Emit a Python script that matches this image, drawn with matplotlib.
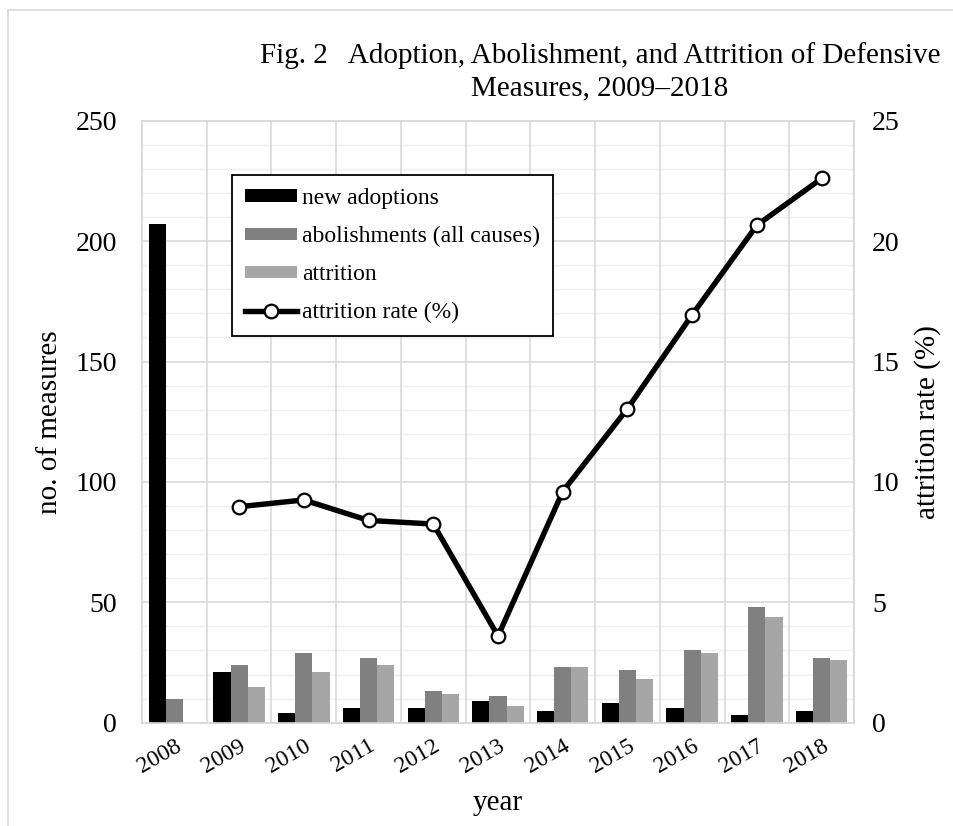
import matplotlib
matplotlib.use("Agg")
import matplotlib.pyplot as plt
import numpy as np
from matplotlib.lines import Line2D

years = ["2008", "2009", "2010", "2011", "2012", "2013", "2014", "2015", "2016", "2017", "2018"]
new_adoptions = [207, 21, 4, 6, 6, 9, 5, 8, 6, 3, 5]
abolishments = [10, 24, 29, 27, 13, 11, 23, 22, 30, 48, 27]
attrition = [0, 15, 21, 24, 12, 7, 23, 18, 29, 44, 26]
rate_years = ["2009", "2010", "2011", "2012", "2013", "2014", "2015", "2016", "2017", "2018"]
attrition_rate = [8.97, 9.25, 8.4, 8.25, 3.6, 9.6, 13.04, 16.94, 20.66, 22.6]

plt.rcParams['font.family'] = ['Liberation Serif', 'DejaVu Serif']

W, H = 954, 826
fig = plt.figure(figsize=(W / 100, H / 100), dpi=100)
ax = fig.add_axes([142 / W, 1 - 722.7 / H, 712 / W, 602 / H])
ax2 = ax.twinx()

x = np.arange(len(years))
bw = 0.265
grid_c = "#d9d9d9"
minor_c = "#efefef"

ax.bar(x - bw, new_adoptions, bw, color="#000000", label="new adoptions", zorder=3)
ax.bar(x, abolishments, bw, color="#808080", label="abolishments (all causes)", zorder=3)
ax.bar(x + bw, attrition, bw, color="#a6a6a6", label="attrition", zorder=3)

rx = [years.index(y) for y in rate_years]
ax2.plot(rx, attrition_rate, color="black", lw=3.9, marker="o", ms=9.8,
         mfc="white", mec="black", mew=1.6, label="attrition rate (%)", zorder=4,
         solid_joinstyle="miter")

ax.set_xlim(-0.5, len(years) - 0.5)
ax.set_ylim(0, 250)
ax2.set_ylim(0, 25)

# gridlines
for v in range(10, 250, 10):
    if v % 50:
        ax.axhline(v, color=minor_c, lw=1.0, zorder=0)
for v in range(50, 250, 50):
    ax.axhline(v, color=grid_c, lw=1.2, zorder=1)
for i in range(1, len(years)):
    ax.axvline(i - 0.5, color=grid_c, lw=1.2, zorder=1)

for a in (ax, ax2):
    for s in a.spines.values():
        s.set_color(grid_c)
        s.set_linewidth(1.2)
    a.tick_params(length=0)

ax.set_yticks(range(0, 251, 50))
ax2.set_yticks(range(0, 26, 5))
ax.tick_params(axis='y', labelsize=20, pad=18)
ax2.tick_params(axis='y', labelsize=20, pad=13)
ax.set_xticks(x)
ax.set_xticklabels(years, rotation=30, ha='right', va='top', rotation_mode='anchor', fontsize=17)
ax.tick_params(axis='x', pad=9)

ax.set_ylabel("no. of measures", fontsize=21, labelpad=9)
ax2.set_ylabel("attrition rate (%)", fontsize=21, labelpad=10)
ax.set_xlabel("year", fontsize=21, labelpad=9)

ax2.set_zorder(ax.get_zorder() + 1)
ax2.patch.set_visible(False)

fig.text(600 / W, 1 - 72 / H, "Fig. 2   Adoption, Abolishment, and Attrition of Defensive\nMeasures, 2009\u20132018",
         ha='center', va='center', fontsize=21, linespacing=1.3)

h1, l1 = ax.get_legend_handles_labels()
h2, l2 = ax2.get_legend_handles_labels()
leg = ax2.legend(h1 + h2, l1 + l2, loc='upper left', bbox_to_anchor=(232 / W, 1 - 175 / H),
                 bbox_transform=fig.transFigure, fontsize=17, frameon=True, fancybox=False,
                 edgecolor='black', framealpha=1, handlelength=2.2, handleheight=0.42,
                 labelspacing=0.72, handletextpad=0.2, borderpad=0.55, borderaxespad=0)
leg.get_frame().set_linewidth(1.3)

# outer chart border
fig.add_artist(Line2D([8 / W, 8 / W], [0, 1 - 10 / H], color=grid_c, lw=1.2, transform=fig.transFigure))
fig.add_artist(Line2D([8 / W, 1], [1 - 10 / H, 1 - 10 / H], color=grid_c, lw=1.2, transform=fig.transFigure))

fig.savefig("out.png", dpi=100)
